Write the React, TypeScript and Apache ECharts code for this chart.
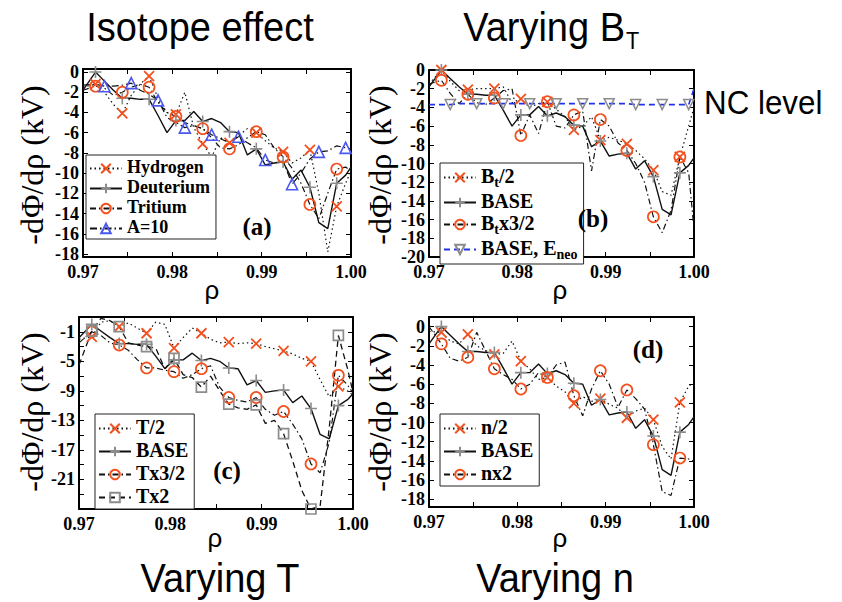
import React, { useEffect, useRef } from 'react';
import * as echarts from 'echarts';

// Radial grid (rho) shared by every profile
const RHO = [
  0.97, 0.9714, 0.9724, 0.9734, 0.9744, 0.9754, 0.9764, 0.9774, 0.9784, 0.9794,
  0.9804, 0.9814, 0.9824, 0.9834, 0.9844, 0.9854, 0.9864, 0.9874, 0.9884, 0.9894,
  0.9904, 0.9914, 0.9924, 0.9934, 0.9944, 0.9954, 0.9964, 0.9974, 0.9984, 0.9994, 1.0,
];

// Indices of RHO where markers are drawn
const MARK_1 = [1, 4, 7, 10, 13, 16, 19, 22, 25, 28];
const MARK_2 = [2, 5, 8, 11, 14, 17, 20, 23, 26, 29];

// -dPhi/drho (kV)
const BASE = [-1.8, 0.0, -0.9, -1.8, -2.6, -2.6, -2.7, -2.7, -4.3, -6.0, -4.8, -4.8, -3.9, -4.9, -4.6, -5.0, -5.9, -6.0, -8.2, -7.6, -9.2, -9.0, -8.9, -10.6, -9.7, -11.4, -14.9, -15.5, -11.0, -10.2, -9.4];

// (a) isotope effect
const HYDROGEN = [-1.5, -1.2, -2.0, -3.2, -4.1, -2.3, -1.2, -0.4, -2.6, -4.0, -4.2, -2.0, -5.5, -7.1, -8.4, -6.5, -7.0, -6.3, -5.6, -6.0, -6.8, -7.5, -7.9, -9.0, -8.5, -7.7, -12.0, -17.8, -13.3, -11.0, -9.8];
const TRITIUM = [-1.8, -1.4, -1.6, -2.3, -2.0, -1.5, -1.2, -1.5, -3.0, -4.0, -4.4, -5.0, -5.3, -5.6, -6.5, -7.5, -7.6, -7.2, -6.5, -5.9, -6.2, -7.5, -8.4, -9.5, -11.0, -13.1, -14.5, -12.0, -9.6, -9.4, -9.8];
const A10 = [-1.3, -1.2, -1.4, -1.4, -1.3, -1.1, -1.8, -2.2, -2.8, -4.5, -5.0, -5.5, -5.3, -5.6, -6.2, -6.6, -7.0, -6.4, -7.0, -7.5, -8.7, -9.0, -8.8, -11.1, -10.0, -8.6, -7.9, -7.8, -7.3, -7.5, -7.6];

// (b) varying B_T
const BT_HALF = [-1.5, 0.0, -1.2, -2.2, -2.1, -2.0, -2.0, -2.0, -1.8, -3.5, -3.1, -4.0, -3.6, -3.4, -4.2, -5.0, -6.4, -6.0, -5.0, -7.5, -7.2, -7.5, -7.9, -8.6, -9.5, -10.7, -13.0, -13.4, -9.3, -6.0, -4.0];
const BT_3HALF = [-1.5, -1.1, -2.5, -3.6, -2.6, -3.5, -3.7, -3.0, -2.2, -2.0, -7.0, -4.8, -6.8, -3.4, -6.0, -6.2, -4.8, -4.4, -10.8, -5.3, -6.0, -7.8, -8.6, -10.0, -12.0, -15.7, -17.4, -15.0, -9.3, -11.0, -17.0];
const BASE_ENEO = [-3.7, -3.7, -3.7, -3.6, -3.6, -3.6, -3.6, -3.6, -3.6, -3.6, -3.6, -3.6, -3.6, -3.6, -3.6, -3.6, -3.6, -3.6, -3.6, -3.6, -3.6, -3.6, -3.6, -3.7, -3.7, -3.7, -3.7, -3.7, -3.7, -3.7, -2.0];

// (c) varying T
const T_HALF = [-2.0, -1.7, 0.3, 0.5, -0.3, 0.2, -0.5, -1.2, 0.3, 0.0, -3.2, -1.8, -0.5, -1.2, -2.0, -2.5, -2.4, -2.6, -2.5, -2.6, -3.0, -3.3, -3.6, -4.0, -4.6, -5.0, -7.5, -9.8, -8.4, -9.0, -9.6];
const T_3HALF = [-2.5, -1.0, -1.5, -2.5, -2.8, -3.5, -4.8, -5.9, -5.9, -6.2, -6.4, -7.3, -6.8, -6.0, -5.6, -8.5, -9.9, -10.3, -10.5, -9.9, -11.5, -12.3, -11.8, -13.5, -15.5, -18.9, -20.1, -16.0, -6.9, -8.2, -9.3];
const T_DOUBLE = [-5.5, -0.9, 0.8, 0.5, -0.3, -2.5, -2.8, -3.0, -3.2, -6.0, -4.6, -6.8, -7.2, -8.5, -7.0, -9.0, -10.8, -11.3, -11.5, -10.9, -13.4, -13.0, -14.8, -18.5, -22.5, -25.0, -24.6, -14.0, -1.5, -6.0, -9.2];

// (d) varying n
const N_HALF = [-0.5, -0.6, -1.5, -1.8, -0.8, -2.0, -2.5, -2.9, -2.8, -1.5, -3.6, -4.4, -5.5, -5.3, -6.2, -6.8, -8.0, -7.3, -7.8, -7.5, -8.1, -8.5, -9.5, -8.8, -8.5, -9.7, -12.5, -13.8, -7.9, -6.2, -5.8];
const N_DOUBLE = [0.0, -1.8, -3.3, -3.6, -3.2, -0.6, -2.5, -4.4, -5.0, -5.5, -6.5, -6.0, -4.8, -5.3, -4.0, -3.7, -7.2, -9.3, -6.5, -4.6, -6.0, -8.4, -6.6, -7.5, -8.6, -12.3, -17.2, -17.6, -13.7, -13.8, -14.0];

// Axis ticks and labels
const X_LABELS = [0.97, 0.98, 0.99, 1.0];
const X_TICKS = [0.97, 0.975, 0.98, 0.985, 0.99, 0.995, 1.0];
const Y_LABELS_A = [0, -2, -4, -6, -8, -10, -12, -14, -16, -18];
const Y_LABELS_B = [0, -2, -4, -6, -8, -10, -12, -14, -16, -18, -20];
const Y_LABELS_C = [-1, -5, -9, -13, -17, -21];
const Y_LABELS_D = [0, -2, -4, -6, -8, -10, -12, -14, -16, -18];
const Y_TICKS_C = [1, -1, -3, -5, -7, -9, -11, -13, -15, -17, -19, -21, -23, -25];

const RED = '#f4501e';
const BLUE = '#4a58f2';
const BLUE_LINE = '#2233e6';
const GRAY = '#8c8c8c';
const INK = '#111';
const SERIF = 'Liberation Serif';
const SANS = 'Liberation Sans';

const STYLES: Record<string, any> = {
  dotCross: {
    line: { color: INK, width: 1.2, type: [1.5, 3] },
    symbol: 'path://M0,0L10,10M10,0L0,10', size: 10, rotate: 0,
    item: { color: 'rgba(0,0,0,0)', borderColor: RED, borderWidth: 1.8 }, marks: MARK_1,
  },
  solidPlus: {
    line: { color: INK, width: 1.4, type: 'solid' },
    symbol: 'path://M5,0L5,10M0,5L10,5', size: 12, rotate: 0,
    item: { color: 'rgba(0,0,0,0)', borderColor: GRAY, borderWidth: 1.6 }, marks: MARK_1,
  },
  dashDotCircle: {
    line: { color: INK, width: 1.2, type: [6, 3, 1.5, 3] },
    symbol: 'circle', size: 11, rotate: 0,
    item: { color: 'rgba(0,0,0,0)', borderColor: RED, borderWidth: 1.7 }, marks: MARK_1,
  },
  dashDotTriangle: {
    line: { color: INK, width: 1.2, type: [7, 3, 1.5, 3] },
    symbol: 'triangle', size: 11, rotate: 0,
    item: { color: 'rgba(0,0,0,0)', borderColor: BLUE, borderWidth: 1.6 }, marks: MARK_2,
  },
  dashDownTriangle: {
    line: { color: BLUE_LINE, width: 1.6, type: [6, 4] },
    symbol: 'triangle', size: 10, rotate: 180,
    item: { color: 'rgba(0,0,0,0)', borderColor: GRAY, borderWidth: 1.5 }, marks: MARK_2,
  },
  dashSquare: {
    line: { color: INK, width: 1.3, type: [6, 4] },
    symbol: 'rect', size: 10, rotate: 0,
    item: { color: 'rgba(0,0,0,0)', borderColor: GRAY, borderWidth: 1.7 }, marks: MARK_1,
  },
};

function curve(name: string, values: number[], grid: number, styleKey: string) {
  const st = STYLES[styleKey];
  return {
    type: 'line',
    name,
    xAxisIndex: grid * 2,
    yAxisIndex: grid * 2,
    data: RHO.map((r, i) =>
      st.marks.includes(i) ? { value: [r, values[i]] } : { value: [r, values[i]], symbol: 'none' }
    ),
    symbol: st.symbol,
    symbolSize: st.size,
    symbolRotate: st.rotate,
    symbolKeepAspect: true,
    showSymbol: true,
    lineStyle: st.line,
    itemStyle: st.item,
    emphasis: { disabled: true },
    clip: true,
  };
}

const GRIDS = [
  { left: 83, top: 69, width: 268, height: 188 },
  { left: 429, top: 70, width: 265, height: 187 },
  { left: 79, top: 317, width: 274, height: 192 },
  { left: 429, top: 317, width: 265, height: 190 },
];

const Y_RANGES = [
  { min: -18.3, max: 0.3, labels: Y_LABELS_A, ticks: Y_LABELS_A },
  { min: -20, max: 0, labels: Y_LABELS_B, ticks: Y_LABELS_B },
  { min: -25, max: 1, labels: Y_LABELS_C, ticks: Y_TICKS_C },
  { min: -18.8, max: 1, labels: Y_LABELS_D, ticks: Y_LABELS_D },
];

const tickLabel = {
  fontFamily: SERIF,
  fontWeight: 'bold' as const,
  fontSize: 18,
  color: '#000',
};

function xAxes(g: number) {
  const common = {
    type: 'value',
    gridIndex: g,
    min: 0.97,
    max: 1.0,
    splitLine: { show: false },
    axisLine: { show: true, onZero: false, lineStyle: { color: '#000', width: 2 } },
    axisTick: { show: true, inside: true, length: 5, customValues: X_TICKS, lineStyle: { color: '#000', width: 1 } },
  };
  return [
    {
      ...common,
      position: 'bottom',
      axisLabel: { ...tickLabel, margin: 6, customValues: X_LABELS, formatter: (v: number) => v.toFixed(2) },
    },
    { ...common, position: 'top', axisLabel: { show: false } },
  ];
}

function yAxes(g: number) {
  const r = Y_RANGES[g];
  const common = {
    type: 'value',
    gridIndex: g,
    min: r.min,
    max: r.max,
    splitLine: { show: false },
    axisLine: { show: true, onZero: false, lineStyle: { color: '#000', width: 2 } },
    axisTick: { show: true, inside: true, length: 5, customValues: r.ticks, lineStyle: { color: '#000', width: 1 } },
  };
  return [
    {
      ...common,
      position: 'left',
      axisLabel: { ...tickLabel, margin: 4, customValues: r.labels, formatter: (v: number) => String(v) },
    },
    { ...common, position: 'right', axisLabel: { show: false } },
  ];
}

const LEGEND_TEXT: Record<string, string> = {
  'Bt/2': '{n|B}{s|t}{n|/2}',
  'Btx3/2': '{n|B}{s|t}{n|x3/2}',
  'BASE, Eneo': '{n|BASE, E}{s|neo}',
};

function legend(left: number, top: number, names: string[], fontSize: number, gap: number) {
  return {
    orient: 'vertical',
    left,
    top,
    z: 10,
    backgroundColor: '#fff',
    borderColor: '#222',
    borderWidth: 1,
    padding: [3, 6, 3, 3],
    itemGap: gap,
    itemWidth: 32,
    itemHeight: 12,
    selectedMode: false,
    data: names,
    formatter: (name: string) => LEGEND_TEXT[name] ?? `{n|${name}}`,
    textStyle: {
      color: '#000',
      fontFamily: SERIF,
      fontWeight: 'bold',
      fontSize,
      rich: {
        n: { fontFamily: SERIF, fontWeight: 'bold', fontSize, color: '#000', verticalAlign: 'bottom', padding: [0, 0, 3, 0] },
        s: { fontFamily: SERIF, fontWeight: 'bold', fontSize: Math.round(fontSize * 0.68), color: '#000', verticalAlign: 'bottom' },
      },
    },
  };
}

function text(x: number, y: number, str: string, font: string, size: number, extra: any = {}) {
  return {
    type: 'text',
    x,
    y,
    z: 20,
    silent: true,
    ...extra,
    style: {
      text: str,
      fontFamily: font,
      fontSize: size,
      fill: '#000',
      align: 'center',
      verticalAlign: 'middle',
      ...(extra.style || {}),
    },
  };
}

const Y_TITLE = '-dΦ/dρ (kV)';

export default function App() {
  const ref = useRef<HTMLDivElement>(null);

  useEffect(() => {
    if (!ref.current) return;
    const chart = echarts.init(ref.current, undefined, { renderer: 'svg' });

    const option: any = {
      animation: false,
      backgroundColor: '#fff',
      textStyle: { fontFamily: SERIF },
      grid: GRIDS.map((g) => ({ ...g, containLabel: false })),
      xAxis: [0, 1, 2, 3].flatMap(xAxes),
      yAxis: [0, 1, 2, 3].flatMap(yAxes),
      legend: [
        legend(86, 155, ['Hydrogen', 'Deuterium', 'Tritium', 'A=10'], 18, 2),
        legend(440, 163, ['Bt/2', 'BASE', 'Btx3/2', 'BASE, Eneo'], 20, 2),
        legend(95, 414, ['T/2', 'BASE', 'Tx3/2', 'Tx2'], 20, 3),
        legend(440, 414, ['n/2', 'BASE', 'nx2'], 20, 3),
      ],
      series: [
        curve('Hydrogen', HYDROGEN, 0, 'dotCross'),
        curve('Deuterium', BASE, 0, 'solidPlus'),
        curve('Tritium', TRITIUM, 0, 'dashDotCircle'),
        curve('A=10', A10, 0, 'dashDotTriangle'),

        curve('Bt/2', BT_HALF, 1, 'dotCross'),
        curve('BASE', BASE, 1, 'solidPlus'),
        curve('Btx3/2', BT_3HALF, 1, 'dashDotCircle'),
        curve('BASE, Eneo', BASE_ENEO, 1, 'dashDownTriangle'),

        curve('T/2', T_HALF, 2, 'dotCross'),
        curve('BASE', BASE, 2, 'solidPlus'),
        curve('Tx3/2', T_3HALF, 2, 'dashDotCircle'),
        curve('Tx2', T_DOUBLE, 2, 'dashSquare'),

        curve('n/2', N_HALF, 3, 'dotCross'),
        curve('BASE', BASE, 3, 'solidPlus'),
        curve('nx2', N_DOUBLE, 3, 'dashDotCircle'),
      ],
      graphic: [
        // panel titles
        text(200, 27, 'Isotope effect', SANS, 40, { scaleX: 0.95 }),
        text(625, 27, 'Varying B', SANS, 40, { scaleX: 0.95, style: { align: 'right' } }),
        text(626, 41, 'T', SANS, 24, { scaleX: 0.9, style: { align: 'left' } }),
        text(220, 578, 'Varying T', SANS, 40, { scaleX: 0.95 }),
        text(555, 578, 'Varying n', SANS, 40, { scaleX: 0.95 }),
        text(704, 103, 'NC level', SANS, 33, { scaleX: 0.95, style: { align: 'left' } }),
        // axis names
        text(212, 290, 'ρ', SANS, 26),
        text(560, 290, 'ρ', SANS, 26),
        text(215, 538, 'ρ', SANS, 26),
        text(560, 538, 'ρ', SANS, 26),
        text(32, 165, Y_TITLE, SERIF, 32, { rotation: Math.PI / 2 }),
        text(380, 165, Y_TITLE, SERIF, 32, { rotation: Math.PI / 2 }),
        text(32, 412, Y_TITLE, SERIF, 32, { rotation: Math.PI / 2 }),
        text(380, 412, Y_TITLE, SERIF, 32, { rotation: Math.PI / 2 }),
        // panel tags
        text(257, 226, '(a)', SERIF, 25, { style: { fontWeight: 'bold' } }),
        text(593, 218, '(b)', SERIF, 25, { style: { fontWeight: 'bold' } }),
        text(227, 470, '(c)', SERIF, 25, { style: { fontWeight: 'bold' } }),
        text(648, 349, '(d)', SERIF, 25, { style: { fontWeight: 'bold' } }),
      ],
    };

    chart.setOption(option);
    return () => chart.dispose();
  }, []);

  return (
    <div
      ref={ref}
      style={{ position: 'fixed', left: 0, top: 0, width: 842, height: 602, background: '#fff' }}
    />
  );
}
